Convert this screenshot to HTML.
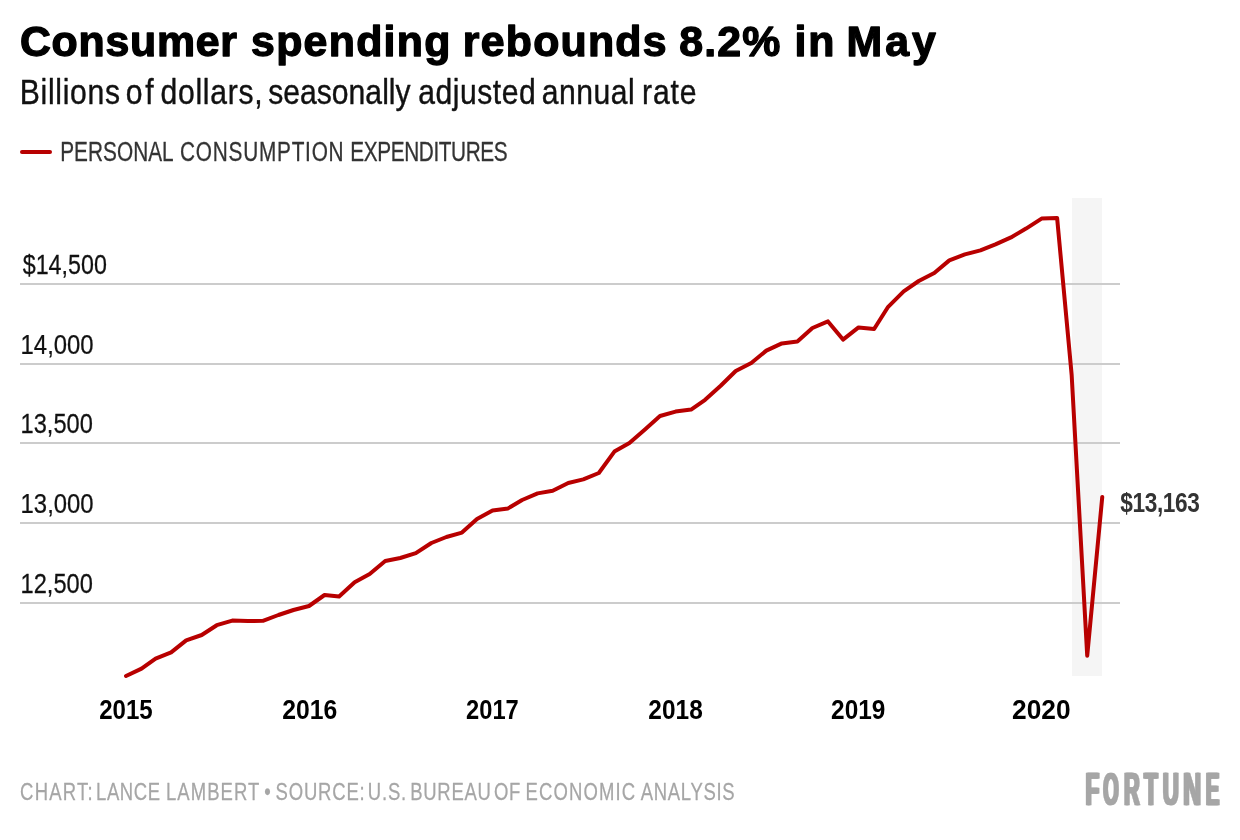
<!DOCTYPE html>
<html lang="en"><head><meta charset="utf-8"><title>Consumer spending rebounds 8.2% in May</title>
<style>
html,body{margin:0;padding:0;background:#fff;}
body{width:1240px;height:840px;overflow:hidden;font-family:"Liberation Sans",Arial,sans-serif;}
svg{display:block;}
text{font-family:"Liberation Sans",Arial,sans-serif;}
</style></head><body>
<svg width="1240" height="840" viewBox="0 0 1240 840">
<rect width="1240" height="840" fill="#ffffff"/>
<text transform="translate(0,56.2) scale(1.02,1)" font-size="42" font-weight="700" fill="#000" stroke="#000" stroke-width="1.3" stroke-linejoin="round"><tspan x="19.51" letter-spacing="0.750">Consumer</tspan> <tspan x="246.12" letter-spacing="1.262">spending</tspan> <tspan x="453.75" letter-spacing="1.213">rebounds</tspan> <tspan x="665.96" letter-spacing="1.135">8.2%</tspan> <tspan x="778.89" letter-spacing="1.843">in</tspan> <tspan x="830.01" letter-spacing="2.871">May</tspan></text>
<text transform="translate(0,104) scale(0.875,1)" font-size="34.4" font-weight="400" fill="#111" stroke="#111" stroke-width="0.4" stroke-linejoin="round"><tspan x="22.63" letter-spacing="0.799">Billions</tspan> <tspan x="143.86" letter-spacing="3.085">of</tspan> <tspan x="183.39" letter-spacing="0.847">dollars,</tspan> <tspan x="306.50" letter-spacing="0.031">seasonally</tspan> <tspan x="478.02" letter-spacing="0.600">adjusted</tspan> <tspan x="619.28" letter-spacing="0.559">annual</tspan> <tspan x="733.84" letter-spacing="0.922">rate</tspan></text>
<line x1="22" y1="152" x2="50" y2="152" stroke="#b80000" stroke-width="4" stroke-linecap="round"/>
<text transform="translate(0,160.8) scale(0.77,1)" font-size="27" font-weight="400" fill="#333" stroke="#333" stroke-width="0.3" stroke-linejoin="round"><tspan x="78.13" letter-spacing="0.063">PERSONAL</tspan> <tspan x="233.77" letter-spacing="1.012">CONSUMPTION</tspan> <tspan x="455.01" letter-spacing="-0.512">EXPENDITURES</tspan></text>
<rect x="1072" y="198" width="30" height="478" fill="#f5f5f5"/>
<rect x="20" y="283" width="1100" height="2" fill="#cccccc"/>
<rect x="20" y="363" width="1100" height="2" fill="#cccccc"/>
<rect x="20" y="442" width="1100" height="2" fill="#cccccc"/>
<rect x="20" y="522" width="1100" height="2" fill="#cccccc"/>
<rect x="20" y="602" width="1100" height="2" fill="#cccccc"/>
<text transform="translate(22.74,274) scale(0.8622,1)" font-size="27" font-weight="400" fill="#111" stroke="#111" stroke-width="0.25" stroke-linejoin="round">$14,500</text>
<text transform="translate(20.58,354) scale(0.8853,1)" font-size="27" font-weight="400" fill="#111" stroke="#111" stroke-width="0.25" stroke-linejoin="round">14,000</text>
<text transform="translate(20.60,433) scale(0.8753,1)" font-size="27" font-weight="400" fill="#111" stroke="#111" stroke-width="0.25" stroke-linejoin="round">13,500</text>
<text transform="translate(20.58,513) scale(0.8853,1)" font-size="27" font-weight="400" fill="#111" stroke="#111" stroke-width="0.25" stroke-linejoin="round">13,000</text>
<text transform="translate(20.60,593) scale(0.8753,1)" font-size="27" font-weight="400" fill="#111" stroke="#111" stroke-width="0.25" stroke-linejoin="round">12,500</text>
<text transform="translate(99.16,718.8) scale(0.8924,1)" font-size="27" font-weight="700" fill="#000">2015</text>
<text transform="translate(282.14,718.8) scale(0.9165,1)" font-size="27" font-weight="700" fill="#000">2016</text>
<text transform="translate(466.08,718.8) scale(0.8778,1)" font-size="27" font-weight="700" fill="#000">2017</text>
<text transform="translate(648.35,718.8) scale(0.9057,1)" font-size="27" font-weight="700" fill="#000">2018</text>
<text transform="translate(831.05,718.8) scale(0.9046,1)" font-size="27" font-weight="700" fill="#000">2019</text>
<text transform="translate(1012.09,718.8) scale(0.9757,1)" font-size="27" font-weight="700" fill="#000">2020</text>
<polyline points="126.00,676.0 141.54,668.6 155.58,658.6 171.13,652.4 186.17,640.4 201.71,635.0 216.76,625.2 232.30,620.6 247.84,621.0 262.89,620.8 278.43,615.0 293.47,610.0 309.02,606.0 324.56,595.0 339.10,596.5 354.64,582.2 369.69,574.0 385.23,561.0 400.27,558.0 415.82,553.2 431.36,543.0 446.40,537.0 461.95,532.6 476.99,519.0 492.53,510.4 508.08,508.4 522.12,500.0 537.66,493.4 552.70,490.8 568.25,483.0 583.29,479.4 598.83,473.0 614.38,451.6 629.42,443.0 644.96,429.4 660.00,416.0 675.55,411.6 691.09,409.6 705.13,399.8 720.68,385.8 735.72,371.0 751.26,363.0 766.30,350.6 781.85,343.4 797.39,341.6 812.43,328.0 827.98,321.4 843.02,339.6 858.56,327.4 874.11,329.0 888.15,306.8 903.69,291.3 918.73,281.0 934.28,273.0 949.32,260.4 964.86,254.4 980.41,250.4 995.45,244.4 1010.99,237.4 1026.04,228.6 1041.58,218.6 1057.12,218.0 1071.66,375.0 1087.21,655.7 1102.25,497.0" fill="none" stroke="#b80000" stroke-width="4" stroke-linejoin="round" stroke-linecap="round"/>
<text transform="translate(0,512) scale(0.84,1)" font-size="27" font-weight="700" fill="#333"><tspan x="1333.67" letter-spacing="-0.461">$13,163</tspan></text>
<text transform="translate(0,799.8) scale(0.78,1)" font-size="23.7" font-weight="400" fill="#a6a6a6" stroke="#a6a6a6" stroke-width="0.25" stroke-linejoin="round"><tspan x="25.73" letter-spacing="1.578">CHART:</tspan> <tspan x="123.11" letter-spacing="0.766">LANCE</tspan> <tspan x="212.85" letter-spacing="1.358">LAMBERT</tspan> <tspan x="338.90" letter-spacing="0.000">•</tspan> <tspan x="353.30" letter-spacing="1.050">SOURCE:</tspan> <tspan x="471.47" letter-spacing="1.069">U.S.</tspan> <tspan x="525.93" letter-spacing="0.929">BUREAU</tspan> <tspan x="633.48" letter-spacing="0.515">OF</tspan> <tspan x="673.88" letter-spacing="1.441">ECONOMIC</tspan> <tspan x="821.59" letter-spacing="0.859">ANALYSIS</tspan></text>
<defs><filter id="hd" x="-5%" y="-5%" width="110%" height="110%" color-interpolation-filters="sRGB"><feOffset in="SourceGraphic" dx="0.9" dy="0" result="a"/><feOffset in="SourceGraphic" dx="-0.9" dy="0" result="b"/><feMerge><feMergeNode in="a"/><feMergeNode in="b"/><feMergeNode in="SourceGraphic"/></feMerge></filter></defs>
<text y="805.1" font-size="46.2" font-weight="700" fill="#a6a6a6" stroke="#a6a6a6" stroke-width="0.6" stroke-linejoin="round" filter="url(#hd)"><tspan x="1085.54" textLength="13.74" lengthAdjust="spacingAndGlyphs">F</tspan><tspan x="1103.22" textLength="15.40" lengthAdjust="spacingAndGlyphs">O</tspan><tspan x="1123.89" textLength="15.71" lengthAdjust="spacingAndGlyphs">R</tspan><tspan x="1144.00" textLength="13.75" lengthAdjust="spacingAndGlyphs">T</tspan><tspan x="1162.65" textLength="16.06" lengthAdjust="spacingAndGlyphs">U</tspan><tspan x="1183.31" textLength="17.84" lengthAdjust="spacingAndGlyphs">N</tspan><tspan x="1205.87" textLength="13.60" lengthAdjust="spacingAndGlyphs">E</tspan></text>
</svg>
</body></html>
